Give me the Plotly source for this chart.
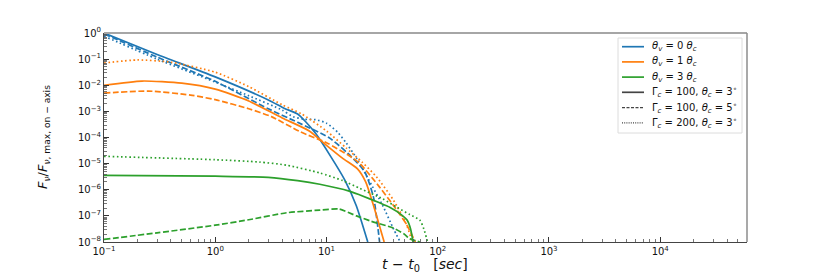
import plotly.graph_objects as go

# ---------------- data ----------------
# theta_v = 0 theta_c
t_b_solid = [0.1, 0.3, 1, 3, 4.2, 5.5, 6.5, 8, 11, 14.5, 18.5, 23.5]
f_b_solid = [1.0, 0.151, 0.0209, 2.75e-3, 1.3e-3, 7.9e-4, 4.0e-4, 1.41e-4, 1.78e-5, 2.5e-6, 2.5e-7, 1e-8]
t_b_dash = [0.1, 0.3, 1, 3, 5.5, 10.5, 15.5, 22, 26.5, 30]
f_b_dash = [0.93, 0.12, 0.0141, 1.26e-3, 3.8e-4, 1e-4, 2.5e-5, 5e-6, 5e-7, 1e-8]
t_b_dot = [0.1, 0.3, 1, 2, 4, 5, 6.3, 8, 10, 12.6, 15, 19, 23.5, 32, 40, 46]
f_b_dot = [0.76, 0.1, 0.0132, 3.98e-3, 1.12e-3, 6.3e-4, 5e-4, 4.8e-4, 3.55e-4, 1.58e-4, 6.3e-5, 1.41e-5, 2.8e-6, 2.5e-7, 3.2e-8, 1e-8]

# theta_v = 1 theta_c
t_o_solid = [0.1, 0.22, 0.5, 1, 2, 4, 7, 10, 14, 19, 22.5, 26, 33]
f_o_solid = [0.01, 0.0145, 0.012, 7.1e-3, 2.5e-3, 5.6e-4, 1.78e-4, 5e-5, 1.58e-5, 6.3e-6, 2e-6, 3.2e-7, 1e-8]
t_o_dash = [0.1, 0.25, 0.6, 1, 2, 3.2, 5.8, 10, 16, 20, 30, 40, 52, 63]
f_o_dash = [5e-3, 6e-3, 4.2e-3, 2.8e-3, 1.26e-3, 6.3e-4, 1.66e-4, 6.3e-5, 2e-5, 1e-5, 1.26e-6, 2.5e-7, 5e-8, 1e-8]
t_o_dot = [0.1, 0.2, 0.4, 1, 2, 4, 6, 10, 15, 21, 28, 40, 52, 59]
f_o_dot = [0.071, 0.093, 0.076, 0.0316, 8.9e-3, 1.78e-3, 7.9e-4, 1.78e-4, 4e-5, 1.12e-5, 3.2e-6, 4e-7, 5e-8, 1e-8]

# theta_v = 3 theta_c
t_g_solid = [0.1, 1, 3, 5.5, 8.7, 16, 20, 30, 37, 47, 53, 57, 60]
f_g_solid = [3.55e-6, 3.3e-6, 3.0e-6, 2.24e-6, 1.62e-6, 8.9e-7, 6.3e-7, 3.16e-7, 2.14e-7, 1.12e-7, 6.9e-8, 3.16e-8, 1e-8]
t_g_dash = [0.1, 0.3, 1, 2, 4.4, 8.7, 13, 18.6, 25, 40, 50, 56, 63, 69]
f_g_dash = [1.26e-8, 2.24e-8, 4.4e-8, 7.1e-8, 1.32e-7, 1.66e-7, 1.82e-7, 1.0e-7, 6.3e-8, 3.4e-8, 2e-8, 1.32e-8, 1.12e-8, 1e-8]
t_g_dot = [0.1, 1, 2.5, 4.4, 8.7, 14, 20, 32, 43, 56, 69, 75, 81]
f_g_dot = [1.9e-5, 1.41e-5, 1.15e-5, 8.7e-6, 4.4e-6, 2.24e-6, 1.12e-6, 4.5e-7, 2.14e-7, 1.12e-7, 6.9e-8, 3.16e-8, 1e-8]

x_tick_vals = [0.1, 1, 10, 100, 1000, 10000]
x_tick_text = ["10<sup>−1</sup>", "10<sup>0</sup>", "10<sup>1</sup>", "10<sup>2</sup>", "10<sup>3</sup>", "10<sup>4</sup>"]
y_tick_vals = [1e-8, 1e-7, 1e-6, 1e-5, 1e-4, 1e-3, 1e-2, 1e-1, 1]
y_tick_text = ["10<sup>−8</sup>", "10<sup>−7</sup>", "10<sup>−6</sup>", "10<sup>−5</sup>", "10<sup>−4</sup>",
               "10<sup>−3</sup>", "10<sup>−2</sup>", "10<sup>−1</sup>", "10<sup>0</sup>"]

x_title = "<i>t</i> − <i>t</i><sub>0</sub>   [<i>sec</i>]"
y_title = "<i>F<sub>ν</sub></i>/<i>F</i><sub><i>ν</i>, max, on − axis</sub>"

legend_labels = ["<i>θ<sub>v</sub></i> = 0 <i>θ<sub>c</sub></i>",
                 "<i>θ<sub>v</sub></i> = 1 <i>θ<sub>c</sub></i>",
                 "<i>θ<sub>v</sub></i> = 3 <i>θ<sub>c</sub></i>",
                 "Γ<sub><i>c</i></sub> = 100, <i>θ<sub>c</sub></i> = 3<sup>∘</sup>",
                 "Γ<sub><i>c</i></sub> = 100, <i>θ<sub>c</sub></i> = 5<sup>∘</sup>",
                 "Γ<sub><i>c</i></sub> = 200, <i>θ<sub>c</sub></i> = 3<sup>∘</sup>"]

BLUE, ORANGE, GREEN, DARK = "#1f77b4", "#ff7f0e", "#2ca02c", "#444444"
DASH = "6px,2.5px"
DOT = "1.6px,2.6px"
LW = 1.7

legend_styles = [(BLUE, "solid", LW), (ORANGE, "solid", LW), (GREEN, "solid", LW),
                 (DARK, "solid", LW), (DARK, "3px,1.5px", 1.1), (DARK, "1px,1.2px", 1.1)]

fig = go.Figure()

series = [
    (t_b_solid, f_b_solid, BLUE, "solid"), (t_b_dash, f_b_dash, BLUE, DASH), (t_b_dot, f_b_dot, BLUE, DOT),
    (t_o_solid, f_o_solid, ORANGE, "solid"), (t_o_dash, f_o_dash, ORANGE, DASH), (t_o_dot, f_o_dot, ORANGE, DOT),
    (t_g_solid, f_g_solid, GREEN, "solid"), (t_g_dash, f_g_dash, GREEN, DASH), (t_g_dot, f_g_dot, GREEN, DOT),
]
for t, f, c, d in series:
    fig.add_trace(go.Scatter(x=t, y=f, mode="lines", showlegend=False, hoverinfo="skip",
                             line=dict(color=c, dash=d, width=LW, shape="spline", smoothing=0.6)))

axis_common = dict(
    type="log", ticks="inside", ticklen=5, tickwidth=1, tickcolor="#333",
    showline=True, linecolor="#444", linewidth=1, showgrid=False, zeroline=False,
    automargin=False,
    tickfont=dict(family="DejaVu Sans", size=10, color="#111"),
    minor=dict(ticks="inside", ticklen=3, tickcolor="#555", tickwidth=0.8, dtick="D1", showgrid=False),
)

fig.update_xaxes(range=[-1, 4.78], tickvals=x_tick_vals, ticktext=x_tick_text, **axis_common)
fig.update_yaxes(range=[-8, 0], tickvals=y_tick_vals, ticktext=y_tick_text, **axis_common)

# top / right spines (lighter grey in the reference)
fig.add_shape(type="line", xref="paper", yref="paper", x0=0, x1=1, y0=1, y1=1,
              line=dict(color="#a6a6a6", width=2))
fig.add_shape(type="line", xref="paper", yref="paper", x0=1, x1=1, y0=0, y1=1,
              line=dict(color="#8c8c8c", width=1.5))

# pixel -> paper helpers (plot area fixed by margins below)
L, R, T, B = 104, 747, 33, 242
def px(x):
    return (x - L) / (R - L)
def py(y):
    return (B - y) / (B - T)

# axis titles
fig.add_annotation(xref="paper", yref="paper", x=px(425), y=py(264.5), text=x_title, showarrow=False,
                   xanchor="center", yanchor="middle",
                   font=dict(family="DejaVu Sans", size=14, color="#111"))
fig.add_annotation(xref="paper", yref="paper", x=px(43), y=py(137), text=y_title, showarrow=False,
                   textangle=-90, xanchor="center", yanchor="middle",
                   font=dict(family="DejaVu Sans", size=13, color="#111"))

# legend box
fig.add_shape(type="rect", xref="paper", yref="paper",
              x0=px(618), x1=px(742), y0=py(38), y1=py(133),
              line=dict(color="#dcdcdc", width=1), fillcolor="rgba(255,255,255,0.85)", layer="above")
rows = [46.7, 61.9, 77.1, 92.3, 107.6, 122.9]
for yc, lab, (c, d, w) in zip(rows, legend_labels, legend_styles):
    fig.add_shape(type="line", xref="paper", yref="paper", x0=px(622), x1=px(644), y0=py(yc), y1=py(yc),
                  line=dict(color=c, dash=d, width=w), layer="above")
    fig.add_annotation(xref="paper", yref="paper", x=px(650), y=py(yc), text=lab, showarrow=False,
                       xanchor="left", yanchor="middle",
                       font=dict(family="DejaVu Sans", size=10, color="#111"))

fig.update_layout(
    width=830, height=277,
    margin=dict(l=104, r=83, t=33, b=35, autoexpand=False),
    paper_bgcolor="white", plot_bgcolor="white",
    font=dict(family="DejaVu Sans", color="#111"),
    showlegend=False,
)

fig.write_html("out.html", config={"displayModeBar": False, "staticPlot": True},
               post_script="document.body.style.margin='0';document.body.style.overflow='hidden';")
